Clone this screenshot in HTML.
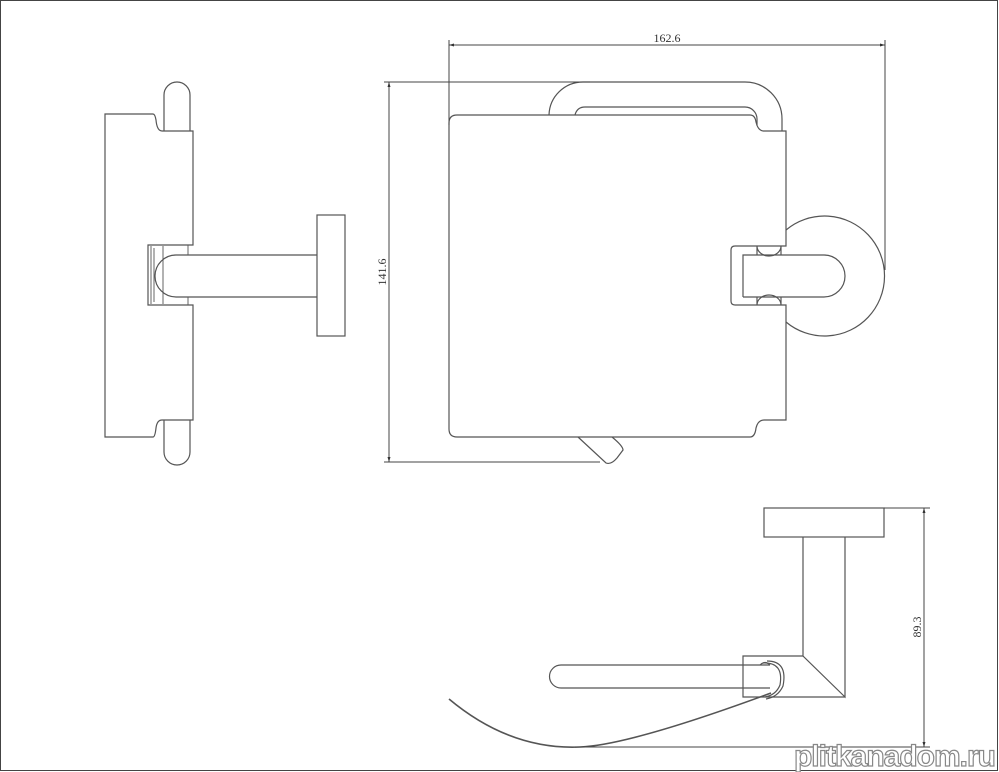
<!DOCTYPE html>
<html><head><meta charset="utf-8"><style>
html,body{margin:0;padding:0;background:#fff;width:999px;height:772px;overflow:hidden}
svg{display:block}
</style></head><body>
<svg width="999" height="772" viewBox="0 0 999 772" xmlns="http://www.w3.org/2000/svg">
<rect x="0.5" y="0.5" width="997" height="770" fill="#fff" stroke="#444" stroke-width="1"/>
<g fill="none" stroke="#555" stroke-width="1.2">
<!-- LEFT VIEW -->
<path d="M164,131 V95 A13,13 0 0 1 190,95 V131"/>
<path d="M164,420 V452 A13,13 0 0 0 190,452 V420"/>
<path d="M105,114 H153 Q155,114 156,120 Q157,131 162,131 H193 V245 H148 V305 H193 V420 H162 Q157,420 156,428 Q155,437 153,437 H105 Z"/>
<path d="M151,246 V304 M154,248 V302 M163,246 V304 M188,245 V255 M188,297 V305" stroke-width="0.9"/>
<path d="M317,255 H176 A21,21 0 0 0 176,297 H317"/>
<rect x="317" y="215" width="28" height="121"/>
<!-- FRONT VIEW -->
<path d="M549,115 A34,34 0 0 1 583,82 H745 A37,37 0 0 1 782,119 V131"/>
<path d="M575,115 Q577,107 585,107 H745 A12,12 0 0 1 757,119 V125"/>
<path d="M786,230 A60,60 0 1 1 786,322"/>
<path d="M457,115 H750 Q755,115 756,122 Q758,131 764,131 H786 V246 H735 Q731,246 731,250 V301 Q731,305 735,305 H786 V420 H764 Q758,420 756,428 Q755,437 750,437 H457 Q449,437 449,429 V123 Q449,115 457,115 Z" fill="#fff"/>
<path d="M757,246 A12,10 0 0 0 781,246 M757,305 A12,10 0 0 1 781,305 M757,246 V255 M781,246 V255 M757,297 V305 M781,297 V305"/>
<path d="M743,297 V255 H824 A21,21 0 0 1 824,297 H743"/>
<path d="M578,437 L606,463 Q611,465 617,458 L623,450 Q623,446 612,437"/>
<!-- BOTTOM VIEW -->
<rect x="764" y="508" width="120" height="29"/>
<path d="M803,537 V656 L845,697 V537"/>
<path d="M803,656 H743 V697 H845"/>
<path d="M770,665 H561 A11.5,11.5 0 0 0 561,688 H770"/>
<path d="M763,663 Q784,662 780,685 Q776,695 765,697" />
<path d="M767,661 Q788,661 783,686 Q778,697 766,699" />
<path d="M760,665 Q765,660 770,665"/>
<path d="M449,699 Q510,750 580,747 Q630,745 771,693" stroke-width="1.6"/>
</g>
<!-- dimensions -->
<g fill="none" stroke="#444" stroke-width="1">
<path d="M449,45 H885 M449,40 V125 M885,40 V270"/>
<path d="M389,82 V462 M384,82 H590 M384,462 H600"/>
<path d="M924,508 V747 M884,508 H930 M575,747 H930"/>
</g>
<g fill="#333" stroke="none">
<path d="M449,45 l5,-1.5 v3z M885,45 l-5,-1.5 v3z M389,82 l-1.5,5 h3z M389,462 l-1.5,-5 h3z M924,508 l-1.5,5 h3z M924,747 l-1.5,-5 h3z"/>
</g>
<g font-family="Liberation Serif, serif" font-size="12" fill="#333">
<text x="667" y="42" text-anchor="middle">162.6</text>
<text transform="translate(386,272) rotate(-90)" text-anchor="middle">141.6</text>
<text transform="translate(921,627) rotate(-90)" text-anchor="middle">89.3</text>
</g>
<text x="995" y="766" text-anchor="end" font-family="Liberation Sans, sans-serif" font-size="30" font-weight="bold" fill="#fff" stroke="#888" stroke-width="1.2" letter-spacing="-1">plitkanadom.ru</text>
</svg>
</body></html>
